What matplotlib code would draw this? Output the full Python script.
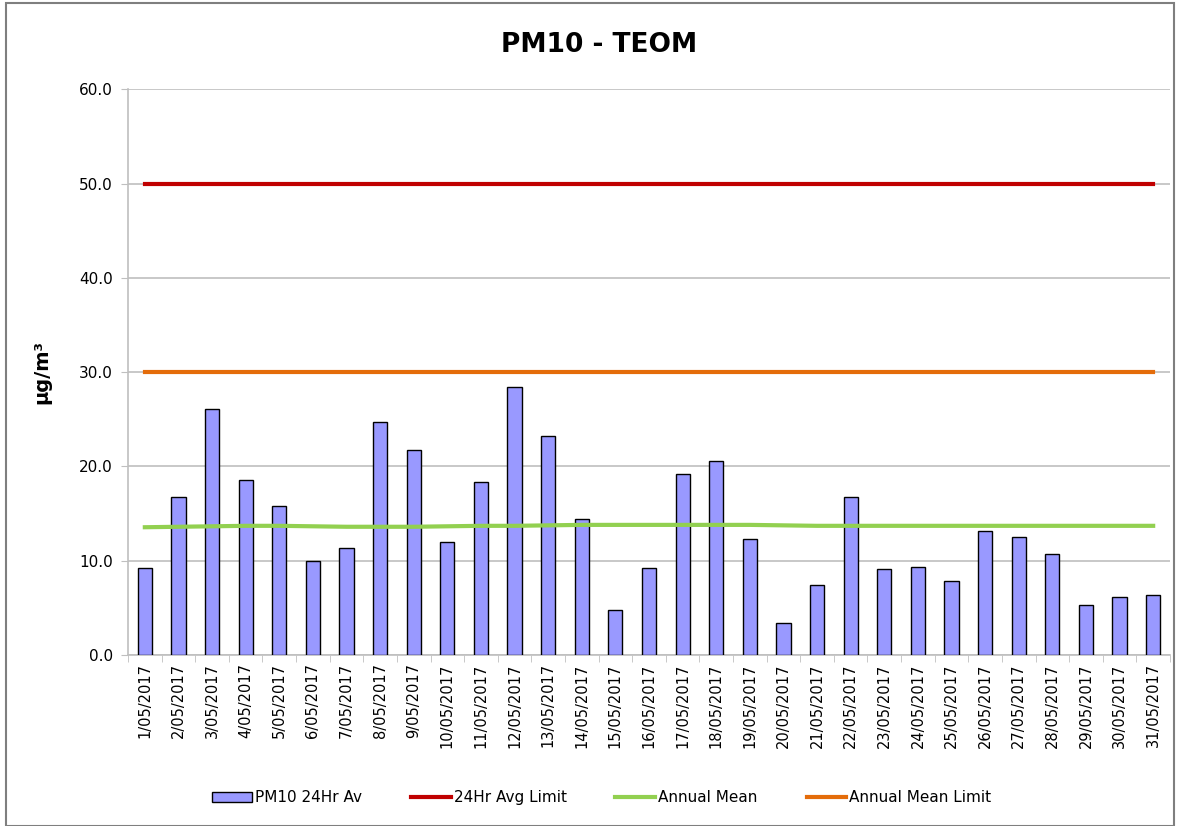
import matplotlib
matplotlib.use("Agg")
import matplotlib.pyplot as plt
from matplotlib.patches import Rectangle

# data (May 2017)
dates = [f"{d}/05/2017" for d in range(1, 32)]
pm10_24hr = [9.2, 16.8, 26.1, 18.6, 15.8, 10.0, 11.3, 24.7, 21.7, 12.0,
             18.4, 28.4, 23.2, 14.4, 4.8, 9.2, 19.2, 20.6, 12.3, 3.4,
             7.4, 16.8, 9.1, 9.3, 7.9, 13.2, 12.5, 10.7, 5.3, 6.2, 6.4]
annual_mean = [13.55, 13.6, 13.65, 13.7, 13.7, 13.65, 13.6, 13.6, 13.6, 13.65,
               13.7, 13.7, 13.75, 13.8, 13.8, 13.8, 13.8, 13.8, 13.8, 13.75,
               13.7, 13.7, 13.7, 13.7, 13.7, 13.7, 13.7, 13.7, 13.7, 13.7, 13.7]
limit_24hr = [50.0] * len(dates)
annual_limit = [30.0] * len(dates)

plt.rcParams["font.family"] = ["DejaVu Sans"]

fig = plt.figure(figsize=(11.8, 8.26), dpi=100)
ax = fig.add_axes([0.1085, 0.207, 0.883, 0.685])

x = list(range(len(dates)))
bars = ax.bar(x, pm10_24hr, width=0.42, color="#9999FF", edgecolor="black",
              linewidth=1.0, label="PM10 24Hr Av", zorder=3)
l1, = ax.plot(x, limit_24hr, color="#C00000", linewidth=3, label="24Hr Avg Limit", zorder=4)
l2, = ax.plot(x, annual_mean, color="#92D050", linewidth=3, label="Annual Mean", zorder=4)
l3, = ax.plot(x, annual_limit, color="#E46C0A", linewidth=3, label="Annual Mean Limit", zorder=4)

ax.set_xlim(-0.5, len(dates) - 0.5)
ax.set_ylim(0, 60)
ax.set_yticks(range(0, 61, 10))
ax.set_yticklabels([f"{v:.1f}" for v in range(0, 61, 10)], fontsize=11)
ax.grid(axis="y", color="#BFBFBF", linewidth=1.2, zorder=0)

ax.set_xticks(x)
ax.set_xticklabels(dates, rotation=90, fontsize=10.5)
ax.tick_params(axis="x", length=0, pad=6)
ax.set_xticks([i + 0.5 for i in range(-1, len(dates))], minor=True)
ax.tick_params(axis="x", which="minor", length=5, color="#BFBFBF")
ax.tick_params(axis="y", length=5, color="#BFBFBF", pad=6)

for side in ["top", "right"]:
    ax.spines[side].set_visible(False)
for side in ["left", "bottom"]:
    ax.spines[side].set_color("#BFBFBF")
    ax.spines[side].set_linewidth(1.2)

fig.text(0.508, 0.945, "PM10 - TEOM", fontsize=19, fontweight="bold",
         ha="center", va="center")
ax.set_ylabel("μg/m³", fontsize=14, fontweight="bold", labelpad=20)

fig.legend([bars, l1, l2, l3],
           ["PM10 24Hr Av", "24Hr Avg Limit", "Annual Mean", "Annual Mean Limit"],
           loc="center", bbox_to_anchor=(0.51, 0.034), ncol=4, frameon=False,
           fontsize=11, handlelength=2.6, handletextpad=0.2, columnspacing=3.2)

fig.patches.append(Rectangle((0.005, 0.0), 0.99, 0.996, transform=fig.transFigure,
                             fill=False, edgecolor="#7F7F7F", linewidth=1.5))

fig.savefig("out.png", dpi=100)
